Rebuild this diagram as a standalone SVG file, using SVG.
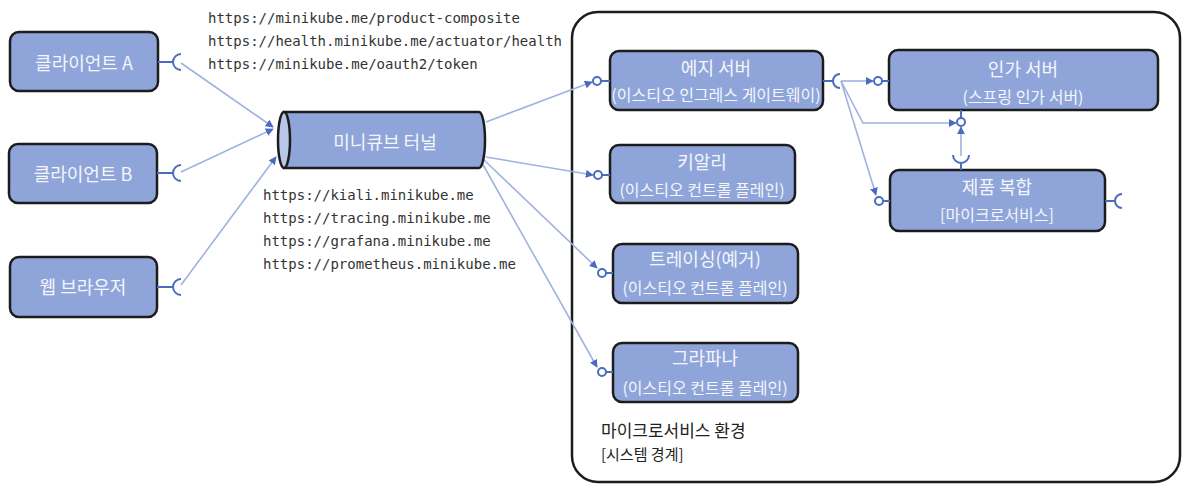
<svg xmlns="http://www.w3.org/2000/svg" width="1184" height="487" viewBox="0 0 1184 487">
<defs>
<style>
.box{fill:#8fa5d9;stroke:#1c1c1c;stroke-width:2.5}
.t1{font-family:"Noto Sans CJK KR","Noto Sans",sans-serif;font-size:18px;fill:#f4f6fb;text-anchor:middle}
.t2{font-family:"Noto Sans CJK KR","Noto Sans",sans-serif;font-size:16px;fill:#f4f6fb;text-anchor:middle}
.url{font-family:"DejaVu Sans Mono","Liberation Mono",monospace;font-size:14px;fill:#333}
.lbl{font-family:"Noto Sans CJK KR","Noto Sans",sans-serif;fill:#222}
.con{stroke:#9fb2df;stroke-width:1.6;fill:none}
.port{stroke:#4a6cc0;stroke-width:2;fill:none}
.lol{stroke:#4a6cc0;stroke-width:2;fill:#fff}
</style>
<marker id="arr" viewBox="0 0 10 10" refX="9" refY="5" markerWidth="8" markerHeight="8" markerUnits="userSpaceOnUse" orient="auto">
<path d="M0,0 L10,5 L0,10 Z" fill="#4a6cc0"/>
</marker>
</defs>
<rect width="1184" height="487" fill="#fff"/>

<g id="boundary">
<rect x="572" y="12" width="608" height="470" rx="26" fill="none" stroke="#1c1c1c" stroke-width="2.5"/>
<text class="lbl" x="601" y="437" font-size="17">마이크로서비스 환경</text>
<text class="lbl" x="601" y="460" font-size="15">[시스템 경계]</text>
</g>

<g id="urls">
<text class="url" x="208" y="23">https://minikube.me/product-composite</text>
<text class="url" x="208" y="46">https://health.minikube.me/actuator/health</text>
<text class="url" x="208" y="69">https://minikube.me/oauth2/token</text>
<text class="url" x="263" y="200">https://kiali.minikube.me</text>
<text class="url" x="263" y="223">https://tracing.minikube.me</text>
<text class="url" x="263" y="246">https://grafana.minikube.me</text>
<text class="url" x="263" y="269">https://prometheus.minikube.me</text>
</g>

<g id="connectors">
<path class="con" d="M181,63 L273,127" marker-end="url(#arr)"/>
<path class="con" d="M181,172 L273,129" marker-end="url(#arr)"/>
<path class="con" d="M181,285 L276,157" marker-end="url(#arr)"/>
<path class="con" d="M486,122 L592,82" marker-end="url(#arr)"/>
<path class="con" d="M486,157 L593,175" marker-end="url(#arr)"/>
<path class="con" d="M484,160 L597,268" marker-end="url(#arr)"/>
<path class="con" d="M482,163 L597,367" marker-end="url(#arr)"/>
<path class="con" d="M841,81 L873,81" marker-end="url(#arr)"/>
<path class="con" d="M841,81 L863,123 L956,123" marker-end="url(#arr)"/>
<path class="con" d="M961,156 L961,127" marker-end="url(#arr)"/>
<path class="con" d="M841,81 L876,195" marker-end="url(#arr)"/>
</g>

<g id="clientA">
<rect class="box" x="10" y="32" width="148" height="59" rx="9"/>
<text class="t1" x="84" y="70">클라이언트 A</text>
<path class="port" d="M158,62 L173,62 M181,54 A8,8 0 0 0 181,70"/>
</g>

<g id="clientB">
<rect class="box" x="9" y="144" width="148" height="59" rx="9"/>
<text class="t1" x="83" y="181">클라이언트 B</text>
<path class="port" d="M157,173 L173,173 M181,165 A8,8 0 0 0 181,181"/>
</g>

<g id="webBrowser">
<rect class="box" x="10" y="257" width="147" height="60" rx="9"/>
<text class="t1" x="83" y="294">웹 브라우저</text>
<path class="port" d="M157,287 L173,287 M181,279 A8,8 0 0 0 181,295"/>
</g>

<g id="tunnel">
<path d="M284,112 L479,112 A6,28 0 0 1 479,168 L284,168 Z" fill="#8fa5d9" stroke="#1c1c1c" stroke-width="2.5"/>
<ellipse cx="284" cy="140" rx="6" ry="28" fill="#b8c6e8" stroke="#1c1c1c" stroke-width="2.5"/>
<text class="t1" x="385" y="149">미니큐브 터널</text>
</g>

<g id="edgeServer">
<rect class="box" x="610" y="51" width="213" height="59" rx="9"/>
<text class="t1" x="716" y="75">에지 서버</text>
<text class="t2" x="716" y="101">(이스티오 인그레스 게이트웨이)</text>
<path class="port" d="M601,81 L610,81"/>
<circle class="lol" cx="597" cy="81" r="4"/>
<path class="port" d="M823,81 L833,81 M840,74 A7,7 0 0 0 840,88"/>
</g>

<g id="kiali">
<rect class="box" x="610" y="145" width="185" height="58" rx="9"/>
<text class="t1" x="702" y="169">키알리</text>
<text class="t2" x="702" y="196">(이스티오 컨트롤 플레인)</text>
<path class="port" d="M602,175 L610,175"/>
<circle class="lol" cx="598" cy="175" r="4"/>
</g>

<g id="tracing">
<rect class="box" x="613" y="244" width="185" height="59" rx="9"/>
<text class="t1" x="705" y="266">트레이싱(예거)</text>
<text class="t2" x="705" y="294">(이스티오 컨트롤 플레인)</text>
<path class="port" d="M606,273 L613,273"/>
<circle class="lol" cx="602" cy="273" r="4"/>
</g>

<g id="grafana">
<rect class="box" x="613" y="343" width="185" height="59" rx="9"/>
<text class="t1" x="705" y="365">그라파나</text>
<text class="t2" x="705" y="394">(이스티오 컨트롤 플레인)</text>
<path class="port" d="M606,372 L613,372"/>
<circle class="lol" cx="602" cy="372" r="4"/>
</g>

<g id="authServer">
<rect class="box" x="889" y="50" width="269" height="60" rx="9"/>
<text class="t1" x="1023" y="76">인가 서버</text>
<text class="t2" x="1023" y="103">(스프링 인가 서버)</text>
<path class="port" d="M882,81 L889,81 M961,110 L961,118"/>
<circle class="lol" cx="878" cy="81" r="4"/>
<circle class="lol" cx="961" cy="122" r="4"/>
</g>

<g id="productComposite">
<rect class="box" x="890" y="170" width="215" height="61" rx="9"/>
<text class="t1" x="997" y="194">제품 복합</text>
<text class="t2" x="997" y="221">[마이크로서비스]</text>
<path class="port" d="M883,201 L890,201"/>
<circle class="lol" cx="879" cy="201" r="4"/>
<path class="port" d="M961,163 L961,170 M953,155 A8,8 0 0 0 969,155"/>
<path class="port" d="M1105,201 L1115,201 M1122,194 A7,7 0 0 0 1122,208"/>
</g>
</svg>
